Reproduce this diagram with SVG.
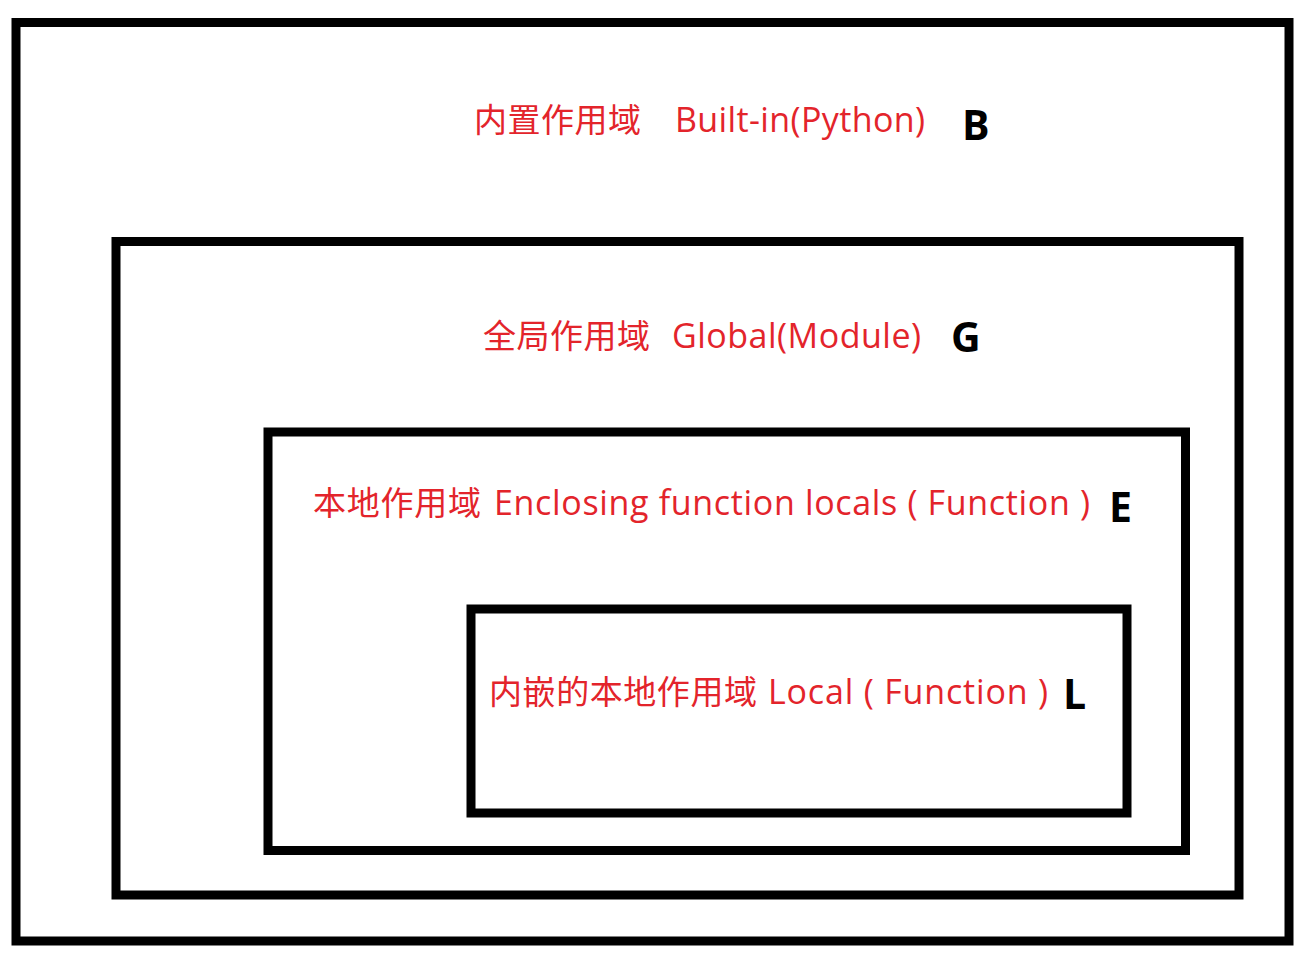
<svg xmlns="http://www.w3.org/2000/svg" width="1314" height="967" viewBox="0 0 1314 967">
<style>
.box{fill:none;stroke:#000;stroke-width:9}
.cjk{font-family:'Noto Sans CJK SC',sans-serif;font-size:33px;fill:#e3242b}
.lat{font-family:'Open Sans','Noto Sans CJK SC',sans-serif;font-size:34px;fill:#e3242b}
.tag{font-family:'Open Sans','Liberation Sans',sans-serif;font-size:41px;font-weight:bold;fill:#000}
</style>
<rect width="1314" height="967" fill="#fff"/>
<g id="builtin">
<rect class="box" x="16" y="22.5" width="1273" height="918.5"/>
<text class="cjk" x="474" y="132" textLength="167">内置作用域</text>
<text class="lat" x="675" y="132" textLength="250">Built-in(Python)</text>
<text class="tag" x="962" y="140">B</text>
</g>
<g id="global">
<rect class="box" x="116" y="241.5" width="1123" height="653.5"/>
<text class="cjk" x="483" y="348" textLength="167">全局作用域</text>
<text class="lat" x="672" y="348" textLength="249">Global(Module)</text>
<text class="tag" x="951" y="352">G</text>
</g>
<g id="enclosing">
<rect class="box" x="268" y="432" width="917.5" height="418.5"/>
<text class="cjk" x="313" y="515" textLength="168">本地作用域</text>
<text class="lat" x="494" y="515" textLength="596">Enclosing function locals ( Function )</text>
<text class="tag" x="1109" y="522">E</text>
</g>
<g id="local">
<rect class="box" x="471" y="609" width="656" height="204"/>
<text class="cjk" x="489" y="704" textLength="268">内嵌的本地作用域</text>
<text class="lat" x="768" y="704" textLength="280">Local ( Function )</text>
<text class="tag" x="1063" y="709">L</text>
</g>
<g id="connectors"/>
</svg>
